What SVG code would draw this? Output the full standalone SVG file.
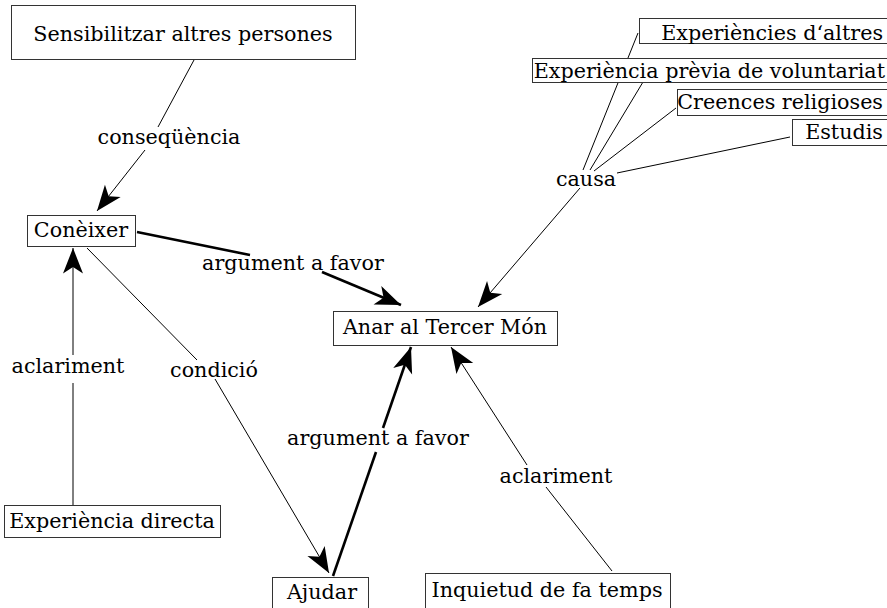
<svg xmlns="http://www.w3.org/2000/svg" width="887" height="608" viewBox="0 0 887 608">
<style>
text{font-family:"DejaVu Serif","Liberation Serif",serif;font-size:20.7px;fill:#000;text-anchor:middle}
.box{fill:#fff;stroke:#333;stroke-width:1}
.ln{fill:none;stroke:#000;stroke-width:1}
.th{fill:none;stroke:#000;stroke-width:2.6}
</style>
<defs>
<marker id="ah" markerUnits="userSpaceOnUse" markerWidth="30" markerHeight="30" viewBox="-25 -12 27 24" refX="0" refY="0" orient="auto">
<path d="M0,0 L-23,-9 L-17,0 L-23,9 Z" fill="#000"/>
</marker>
</defs>
<rect width="887" height="608" fill="#fff"/>
<g id="connectors">
<path class="ln" d="M194,60 L158,127"/>
<path class="ln" d="M145,150 L97,211" marker-end="url(#ah)"/>
<path class="th" d="M137,232 L250,255"/>
<path class="th" d="M322,272 L401,305" marker-end="url(#ah)"/>
<path class="ln" d="M73,505 L73,383"/>
<path class="ln" d="M73,355 L73,248" marker-end="url(#ah)"/>
<path class="ln" d="M87,248 L197,360"/>
<path class="ln" d="M215,379 L329,573" marker-end="url(#ah)"/>
<path class="th" d="M333,576 L376,452"/>
<path class="th" d="M383,428 L411,347" marker-end="url(#ah)"/>
<path class="ln" d="M612,571 L546,487"/>
<path class="ln" d="M527,465 L451,347" marker-end="url(#ah)"/>
<path class="ln" d="M638,33 L583,170"/>
<path class="ln" d="M643,82 L590,170"/>
<path class="ln" d="M676,108 L594,171"/>
<path class="ln" d="M790,137 L617,173"/>
<path class="ln" d="M580,188 L478,307" marker-end="url(#ah)"/>
</g>
<g id="labels">
<text x="169" y="144">conseqüència</text>
<text x="293" y="270">argument a favor</text>
<text x="586" y="186">causa</text>
<text x="68" y="373">aclariment</text>
<text x="214" y="377">condició</text>
<text x="378" y="445">argument a favor</text>
<text x="556" y="483">aclariment</text>
</g>
<g id="n-sensibilitzar"><rect class="box" x="11.5" y="5.5" width="344" height="54"/><text x="183" y="41">Sensibilitzar altres persones</text></g>
<g id="n-coneixer"><rect class="box" x="27.5" y="215.5" width="108" height="31"/><text x="81" y="237">Conèixer</text></g>
<g id="n-anar"><rect class="box" x="333.5" y="311.5" width="224" height="34"/><text x="445" y="334">Anar al Tercer Món</text></g>
<g id="n-expdirecta"><rect class="box" x="4.5" y="505.5" width="216" height="32"/><text x="112" y="528">Experiència directa</text></g>
<g id="n-ajudar"><rect class="box" x="272.5" y="577.5" width="96" height="40"/><text x="322" y="599">Ajudar</text></g>
<g id="n-inquietud"><rect class="box" x="425.5" y="573.5" width="245" height="40"/><text x="547" y="597">Inquietud de fa temps</text></g>
<g id="n-expaltres"><rect class="box" x="639.5" y="18.5" width="260" height="25"/><text x="883" y="40" style="text-anchor:end">Experiències d‘altres</text></g>
<g id="n-expvol"><rect class="box" x="532.5" y="58.5" width="370" height="24"/><text x="885" y="78" style="text-anchor:end">Experiència prèvia de voluntariat</text></g>
<g id="n-creences"><rect class="box" x="677.5" y="89.5" width="220" height="26"/><text x="883" y="109" style="text-anchor:end">Creences religioses</text></g>
<g id="n-estudis"><rect class="box" x="792.5" y="119.5" width="110" height="26"/><text x="883" y="139" style="text-anchor:end">Estudis</text></g>
</svg>
